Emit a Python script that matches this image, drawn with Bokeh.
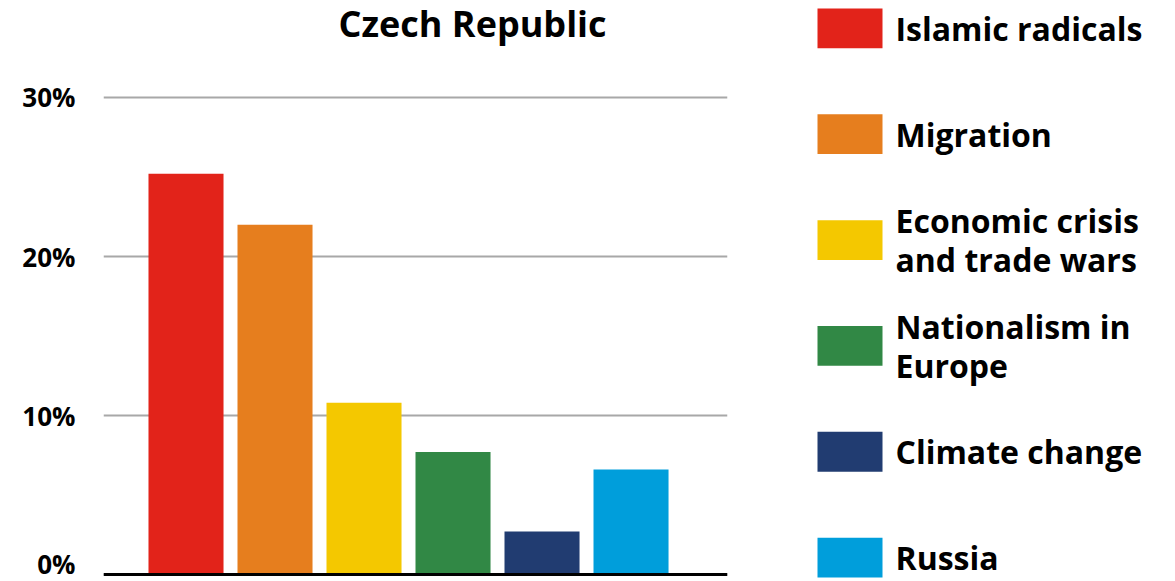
from bokeh.plotting import figure
from bokeh.models import Range1d, ColumnDataSource, Label, FixedTicker, Span
from bokeh.layouts import row
from bokeh.embed import file_html
from bokeh.resources import INLINE
from bokeh.core.properties import value

# ---- data ----
categories = ["Islamic radicals", "Migration", "Economic crisis\nand trade wars",
              "Nationalism in\nEurope", "Climate change", "Russia"]
shares = [25.2, 22.0, 10.8, 7.7, 2.7, 6.6]
colors = ["#e2231a", "#e67e1e", "#f4c800", "#318845", "#213c71", "#009edb"]
y_ticks = [0, 10, 20, 30]
y_tick_labels = {0: "0%", 10: "10%", 20: "20%", 30: "30%"}
title_text = "Czech Republic"

FONT = "Open Sans"

idx = list(range(len(categories)))
src = ColumnDataSource(dict(x=idx, top=shares, color=colors, label=categories))

# ---- main chart ----
p = figure(width=800, height=581, output_backend="svg", toolbar_location=None,
           x_range=Range1d(-0.927, 6.084), y_range=Range1d(-0.25, 36.1),
           min_border_left=103, min_border_right=73, min_border_top=0,
           min_border_bottom=3)
p.outline_line_color = None
p.background_fill_color = "white"
p.border_fill_color = "white"

p.vbar(x="x", top="top", bottom=0, width=0.843, color="color", source=src,
       line_color=None)

p.xaxis.visible = False
p.xgrid.visible = False
p.yaxis.ticker = FixedTicker(ticks=y_ticks)
p.yaxis.major_label_overrides = y_tick_labels
p.yaxis.axis_line_color = None
p.yaxis.major_tick_line_color = None
p.yaxis.minor_tick_line_color = None
p.yaxis.major_label_standoff = 22
p.yaxis.major_label_text_font = FONT
p.yaxis.major_label_text_font_style = "bold"
p.yaxis.major_label_text_font_size = "26px"
p.yaxis.major_label_text_color = "black"
p.ygrid.grid_line_color = "#a8a8a8"
p.ygrid.grid_line_width = 2

p.add_layout(Span(location=0, dimension="width", line_color="black", line_width=3))

p.add_layout(Label(x=3.22, y=34.65, text=title_text, text_align="center",
                   text_baseline="middle", text_font=FONT,
                   text_font_style="bold", text_font_size="36px",
                   text_color="black"))

# ---- legend panel ----
leg_y = [28 + 106.4 * i for i in idx]
lsrc = ColumnDataSource(dict(y=leg_y, color=colors, label=categories))
q = figure(width=375, height=581, output_backend="svg", toolbar_location=None,
           x_range=Range1d(0, 375), y_range=Range1d(581, 0),
           min_border_left=0, min_border_right=0, min_border_top=0,
           min_border_bottom=0)
q.axis.visible = False
q.grid.visible = False
q.outline_line_color = None
q.rect(x=49.5, y="y", width=65, height=40, color="color", source=lsrc,
       line_color=None)
q.text(x=95, y="y", text="label", source=lsrc, text_font=value(FONT),
       text_font_style="bold", text_font_size="32px", text_baseline="middle",
       text_align="left", text_color="black", text_line_height=0.9)

layout = row(p, q, spacing=0)
open("out.html", "w").write(file_html(layout, INLINE))
